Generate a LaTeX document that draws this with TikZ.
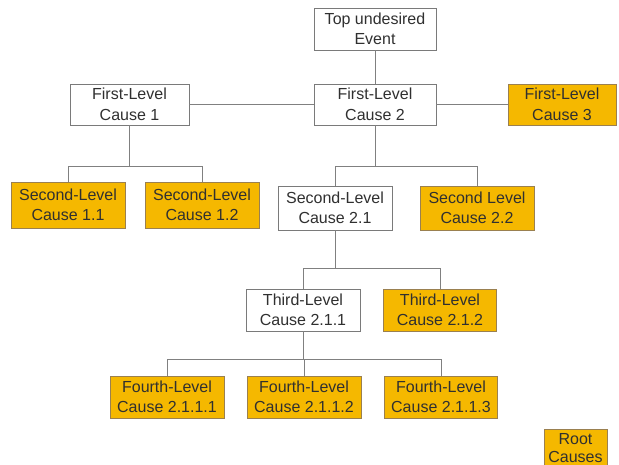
\documentclass[tikz,border=0pt]{standalone}
\usepackage{fontspec}
\setmainfont{Liberation Sans}
\definecolor{boxfill}{HTML}{F5B800}
\definecolor{boxline}{HTML}{9A8050}
\definecolor{wline}{HTML}{7A7A7A}
\definecolor{conn}{HTML}{808080}
\definecolor{txt}{HTML}{303030}
\tikzset{
  cbox/.style={draw=wline, line width=0.9pt, fill=white, text=txt, align=center, inner sep=0pt,
    font=\fontsize{16}{20.5}\selectfont},
  rbox/.style={cbox, draw=boxline, fill=boxfill},
  conn/.style={draw=conn, line width=0.9pt}
}
\begin{document}
\begin{tikzpicture}[x=1pt,y=1pt]
\useasboundingbox (0,0) rectangle (619,-465);
\clip (0,0) rectangle (619,-465);
\node[cbox, minimum width=122, minimum height=42] (top) at (375,-29) {Top undesired\\Event};
\node[cbox, minimum width=119, minimum height=41] (fl1) at (129.5,-104.5) {First-Level\\Cause 1};
\node[cbox, minimum width=122, minimum height=41] (fl2) at (375,-104.5) {First-Level\\Cause 2};
\node[rbox, minimum width=108, minimum height=41] (fl3) at (562,-104.5) {First-Level\\Cause 3};
\node[rbox, minimum width=114, minimum height=46] (sl11) at (68,-205) {Second-Level\\Cause 1.1};
\node[rbox, minimum width=114, minimum height=46] (sl12) at (202,-205) {Second-Level\\Cause 1.2};
\node[cbox, minimum width=114, minimum height=44] (sl21) at (335,-208) {Second-Level\\Cause 2.1};
\node[rbox, minimum width=114, minimum height=44] (sl22) at (477,-208) {Second Level\\Cause 2.2};
\node[cbox, minimum width=114, minimum height=42] (tl1) at (303,-310) {Third-Level\\Cause 2.1.1};
\node[rbox, minimum width=113, minimum height=42] (tl2) at (440,-310) {Third-Level\\Cause 2.1.2};
\node[rbox, minimum width=114, minimum height=42] (f1) at (167,-397) {Fourth-Level\\Cause 2.1.1.1};
\node[rbox, minimum width=114, minimum height=42] (f2) at (304,-397) {Fourth-Level\\Cause 2.1.1.2};
\node[rbox, minimum width=113, minimum height=42] (f3) at (441,-397) {Fourth-Level\\Cause 2.1.1.3};
\node[rbox, minimum width=63, minimum height=38, font=\fontsize{16}{18.5}\selectfont] (root) at (575.5,-448) {Root\\Causes};
\draw[conn] (top) -- (fl2);
\draw[conn] (fl1) -- (fl2);
\draw[conn] (fl2) -- (fl3);
\draw[conn] (fl1.south) -- (fl1.south |- 0,-166) -| (sl11.north);
\draw[conn] (fl1.south |- 0,-166) -| (sl12.north);
\draw[conn] (fl2.south) -- (fl2.south |- 0,-166) -| (sl21.north);
\draw[conn] (fl2.south |- 0,-166) -| (sl22.north);
\draw[conn] (sl21.south) -- (sl21.south |- 0,-268) -| (tl1.north);
\draw[conn] (sl21.south |- 0,-268) -| (tl2.north);
\draw[conn] (tl1.south) -- (tl1.south |- 0,-359) -| (f1.north);
\draw[conn] (tl1.south |- 0,-359) -| (f2.north);
\draw[conn] (tl1.south |- 0,-359) -| (f3.north);
\end{tikzpicture}
\end{document}
